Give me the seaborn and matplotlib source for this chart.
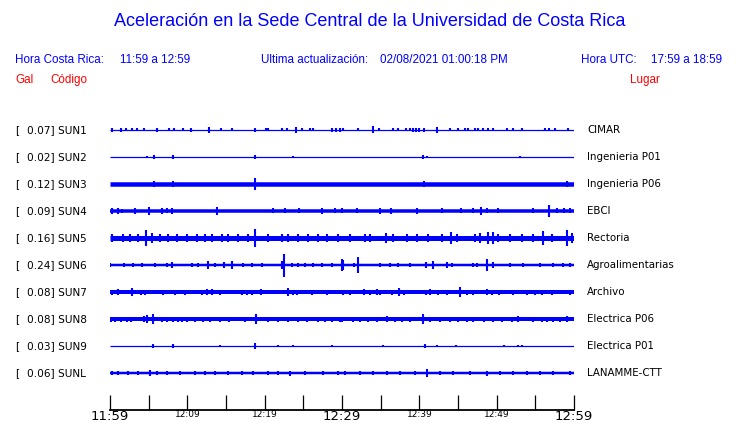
import numpy as np
import pandas as pd
import seaborn as sns
import matplotlib
matplotlib.use("Agg")
import matplotlib.pyplot as plt

# stations, peak labels, places
codes = ["SUN1", "SUN2", "SUN3", "SUN4", "SUN5", "SUN6", "SUN7", "SUN8", "SUN9", "SUNL"]
peaks = ["0.07", "0.02", "0.12", "0.09", "0.16", "0.24", "0.08", "0.08", "0.03", "0.06"]
places = ["CIMAR", "Ingenieria P01", "Ingenieria P06", "EBCI", "Rectoria",
          "Agroalimentarias", "Archivo", "Electrica P06", "Electrica P01", "LANAMME-CTT"]

# background noise half-amplitude (Gal) of each trace
noise = [0.01, 0.006, 0.045, 0.035, 0.05, 0.025, 0.04, 0.04, 0.006, 0.025]

# bursts: (minutes after 11:59, half-amplitude in Gal)
sun1 = [(0.3, .04), (1.4, .04), (2.1, .03), (2.8, .03), (3.5, .03), (4.4, .03), (6.1, .04), (7.6, .03),
        (8.3, .03), (9.4, .03), (10.5, .04), (12.8, .06), (14.4, .03), (15.8, .03), (18.7, .04), (20.2, .03),
        (20.4, .03), (22.2, .03), (22.9, .03), (24.0, .06), (24.8, .03), (25.9, .03), (26.2, .03), (28.7, .04),
        (29.2, .04), (29.7, .04), (30.1, .03), (32.1, .03), (34.0, .07), (34.8, .03), (36.6, .03), (37.2, .03),
        (38.3, .03), (38.8, .03), (39.2, .04), (39.6, .04), (40.0, .04), (40.6, .04), (42.3, .06), (44.0, .03),
        (45.0, .03), (45.9, .03), (46.3, .03), (47.2, .03), (47.6, .03), (48.2, .03), (48.9, .03), (49.5, .03),
        (51.3, .03), (52.1, .03), (53.3, .03), (56.2, .03), (56.8, .03), (57.5, .03), (59.2, .03)]
sun2 = [(4.8, .02), (5.7, .04), (8.1, .04), (18.7, .04), (23.7, .02), (40.5, .04), (41.0, .02), (53.0, .02)]
sun3 = [(5.7, .06), (8.1, .06), (18.7, .12), (40.6, .06), (59.1, .06)]
sun4 = [(0.3, .06), (1.0, .06), (1.6, .04), (3.2, .06), (5.0, .08), (6.7, .06), (7.4, .05), (8.0, .06),
        (13.8, .08), (21.1, .05), (22.6, .05), (24.4, .05), (27.4, .06), (29.1, .05), (30.0, .05), (31.9, .05),
        (34.9, .06), (36.3, .06), (39.7, .06), (42.9, .05), (45.4, .05), (46.9, .05), (48.0, .08), (48.7, .05),
        (50.2, .05), (54.7, .05), (56.8, .12), (57.8, .05), (58.7, .05), (59.5, .05)]
sun5 = [(0.3, .08), (1.7, .08), (2.6, .09), (3.6, .08), (4.7, .16), (5.4, .10), (6.5, .08), (7.5, .08),
        (8.7, .08), (10.0, .08), (11.2, .08), (12.3, .09), (13.2, .08), (14.5, .08), (15.3, .08), (16.6, .08),
        (17.8, .08), (18.7, .18), (20.4, .08), (22.2, .09), (23.0, .08), (24.3, .08), (25.6, .08), (26.9, .08),
        (28.1, .08), (29.5, .08), (31.0, .08), (33.0, .08), (33.6, .08), (35.7, .10), (36.6, .08), (38.4, .08),
        (39.7, .08), (41.1, .08), (42.9, .08), (44.1, .12), (44.9, .08), (47.2, .08), (47.8, .10), (48.9, .12),
        (49.5, .12), (50.2, .08), (51.7, .08), (53.3, .08), (54.7, .08), (56.0, .14), (57.2, .08), (59.1, .16),
        (59.7, .10)]
sun6 = [(0.0, .04), (1.8, .04), (3.0, .04), (4.1, .04), (5.8, .04), (7.4, .04), (8.0, .06), (10.6, .04),
        (11.4, .04), (12.7, .08), (13.6, .04), (14.7, .06), (15.8, .08), (17.2, .04), (18.4, .04), (19.7, .04),
        (22.2, .08), (22.5, .23), (23.5, .04), (24.3, .04), (25.2, .04), (26.2, .04), (27.4, .04), (28.7, .04),
        (30.0, .12), (30.1, .10), (31.6, .04), (32.1, .16), (34.9, .04), (36.2, .04), (37.2, .04), (38.8, .04),
        (40.9, .06), (41.8, .08), (43.6, .06), (44.2, .04), (46.9, .04), (47.4, .04), (48.7, .12), (49.5, .06),
        (51.7, .04), (53.4, .04), (55.6, .04), (57.3, .04), (58.6, .04), (59.5, .04)]
sun7 = [(0.3, .05), (1.0, .06), (2.8, .08), (4.0, .05), (4.5, .05), (6.9, .05), (8.4, .05), (9.7, .05),
        (11.9, .05), (12.5, .06), (13.2, .06), (14.2, .05), (17.1, .05), (17.7, .05), (18.4, .05), (19.5, .06),
        (23.0, .08), (23.7, .05), (24.2, .05), (26.1, .05), (28.1, .05), (30.1, .05), (31.0, .05), (32.8, .06),
        (33.6, .05), (34.5, .06), (34.9, .05), (36.5, .05), (37.4, .08), (38.0, .05), (40.9, .05), (41.4, .06),
        (42.4, .05), (43.6, .05), (45.3, .10), (46.1, .05), (46.9, .05), (48.7, .06), (49.4, .05), (50.3, .05),
        (52.1, .05), (53.9, .05), (55.0, .05), (55.9, .05), (57.2, .05), (59.5, .05)]
sun8 = [(0.1, .05), (0.6, .05), (1.4, .05), (2.2, .05), (2.7, .05), (4.4, .06), (4.8, .08), (5.6, .10),
        (6.7, .05), (7.4, .05), (8.1, .05), (8.8, .05), (9.3, .05), (10.0, .05), (11.0, .05), (12.0, .05),
        (12.9, .05), (14.2, .05), (15.4, .05), (17.5, .05), (18.9, .10), (20.4, .05), (21.7, .05), (23.0, .05),
        (24.3, .05), (25.5, .05), (26.9, .05), (27.8, .05), (28.7, .05), (29.7, .05), (30.0, .05), (31.4, .05),
        (32.3, .05), (33.4, .05), (34.5, .05), (35.8, .06), (36.9, .05), (37.8, .05), (38.8, .05), (40.5, .10),
        (41.4, .05), (42.7, .05), (44.0, .05), (45.0, .05), (46.2, .05), (46.9, .05), (48.4, .05), (49.5, .05),
        (50.7, .05), (52.0, .05), (52.8, .06), (54.7, .05), (55.9, .05), (56.5, .05), (57.3, .05), (58.2, .05),
        (59.1, .06)]
sun9 = [(5.6, .04), (8.1, .04), (14.2, .02), (18.7, .06), (21.7, .02), (23.7, .02), (28.7, .02), (35.3, .02),
        (40.7, .04), (42.3, .02), (44.7, .02), (50.9, .02), (52.8, .02), (53.3, .02)]
sunl = [(0.3, .04), (1.0, .04), (2.3, .04), (3.6, .04), (5.2, .06), (6.1, .04), (7.4, .04), (9.1, .04),
        (11.0, .04), (12.3, .04), (13.6, .04), (15.3, .04), (17.1, .04), (18.5, .04), (20.4, .04), (21.7, .04),
        (23.3, .05), (25.2, .04), (27.5, .04), (29.5, .04), (30.4, .04), (32.3, .04), (34.0, .04), (35.8, .04),
        (37.5, .04), (39.4, .04), (41.0, .08), (42.7, .04), (44.4, .04), (46.6, .04), (48.7, .05), (50.4, .04),
        (52.1, .04), (53.9, .04), (55.6, .04), (57.3, .04), (59.5, .04)]
bursts = [sun1, sun2, sun3, sun4, sun5, sun6, sun7, sun8, sun9, sunl]

tick_minutes = list(range(0, 61, 5))
tick_labels = ["11:59", "", "12:09", "", "12:19", "", "12:29", "", "12:39", "", "12:49", "", "12:59"]

row_gap = 0.54  # Gal between traces
blue = "#0000ff"

rows = []
for i, (code, b) in enumerate(zip(codes, bursts)):
    for t, a in b:
        rows.append({"station": code, "row": i, "minute": t, "amp": a})
df = pd.DataFrame(rows)

sns.set_theme(style="white")
plt.rcParams["font.family"] = ["DejaVu Sans"]

W, H = 740, 423
fig = plt.figure(figsize=(W / 100, H / 100), dpi=100)
ax = fig.add_axes([110 / W, 1 - 410 / H, 464 / W, 295 / H])
ax.set_xlim(0, 60)
ax.set_ylim(-5.6, 0.3)

px_per_gal = 295 / 5.9
for i in range(len(codes)):
    off = -i * row_gap
    lw = max(2 * noise[i] * px_per_gal * 0.72, 0.9)
    ax.hlines(off, 0, 60, color=blue, lw=lw)
    sub = df[df["row"] == i]
    ax.vlines(sub["minute"], off - sub["amp"], off + sub["amp"], color=blue, lw=1.5)

sns.despine(ax=ax, left=True)
ax.spines["bottom"].set_linewidth(1.3)
ax.spines["bottom"].set_color("black")
ax.set_yticks([])
ax.set_xticks(tick_minutes)
ax.set_xticklabels(tick_labels)
ax.tick_params(axis="x", bottom=True, direction="in", length=10.8, width=0.9, color="black",
               pad=0, labelcolor="black")
for lab in ax.get_xticklabels():
    lab.set_fontsize(9.5 if lab.get_text() in ("11:59", "12:29", "12:59") else 6.5)
ax.grid(False)
ax.patch.set_alpha(0)

def px(x, y):
    return x / W, 1 - y / H

for i in range(len(codes)):
    y = 130 + 27 * i
    fig.text(*px(15, y), "[", fontsize=7.6, va="center", color="black")
    fig.text(*px(27, y), f"{peaks[i]}] {codes[i]}", fontsize=7.6, va="center", color="black")
    fig.text(*px(587, y), places[i], fontsize=7.4, va="center", color="black")

hdr = dict(family="Liberation Sans", va="center")
fig.text(*px(370, 22), "Aceleración en la Sede Central de la Universidad de Costa Rica",
         fontsize=13, color=blue, ha="center", **hdr)
fig.text(*px(15, 60), "Hora Costa Rica:", fontsize=8.4, color=blue, **hdr)
fig.text(*px(120, 60), "11:59 a 12:59", fontsize=8.4, color=blue, **hdr)
fig.text(*px(261, 60), "Ultima actualización:", fontsize=8.4, color=blue, **hdr)
fig.text(*px(380, 60), "02/08/2021 01:00:18 PM", fontsize=8.4, color=blue, **hdr)
fig.text(*px(581, 60), "Hora UTC:", fontsize=8.4, color=blue, **hdr)
fig.text(*px(651, 60), "17:59 a 18:59", fontsize=8.4, color=blue, **hdr)
fig.text(*px(15, 80), "Gal", fontsize=8.4, color="red", **hdr)
fig.text(*px(50, 80), "Código", fontsize=8.4, color="red", **hdr)
fig.text(*px(630, 80), "Lugar", fontsize=8.4, color="red", **hdr)

fig.savefig("out.png", dpi=100, facecolor="white")
